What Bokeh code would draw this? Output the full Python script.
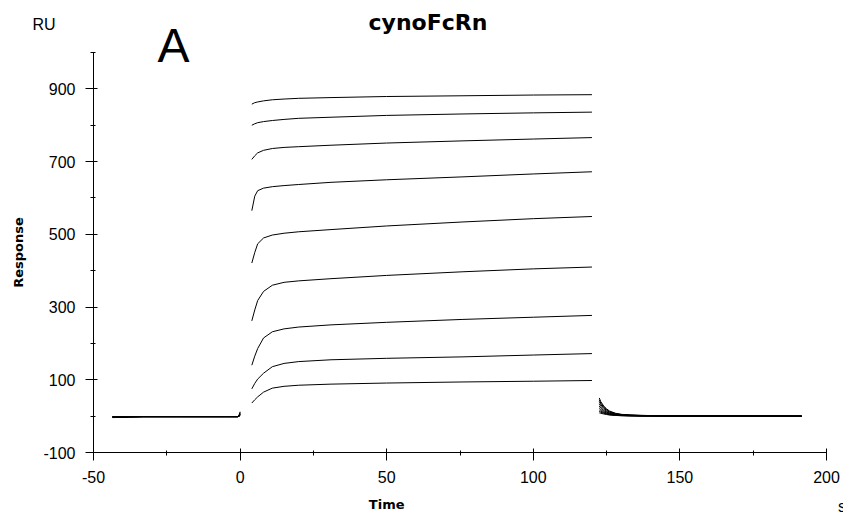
from bokeh.plotting import figure
from bokeh.models import FixedTicker, Range1d, LinearAxis
from bokeh.core.properties import value
from bokeh.embed import file_html
from bokeh.resources import INLINE

# ---- axis ticks ----
x_ticks = [-50, 0, 50, 100, 150, 200]
x_minor = [-25, 25, 75, 125, 175]
x_labels = ["-50", "0", "50", "100", "150", "200"]
y_ticks = [-100, 100, 300, 500, 700, 900]
y_minor = [0, 200, 400, 600, 800, 1000]
y_labels = ["-100", "100", "300", "500", "700", "900"]

# ---- baseline phase (s, RU) ----
base_t = [-43.5, -38, -33, -20, -5, -0.8, -0.3, 0]
base_1 = [-4, -3, -2, -2, -2, -2, 4, 12]
base_2 = [-3, -2.5, -2, -2, -2, -2, 3, 10]
base_3 = [-3, -2, -1.5, -1.5, -1.5, -1.5, 2, 8]
base_4 = [-2.5, -2, -1.5, -1.5, -1.5, -1.5, 1, 6]
base_5 = [-2, -1.5, -1, -1, -1, -1, 1, 5]
base_6 = [-2, -1.5, -1, -1, -1, -1, 0, 4]
base_7 = [-1.5, -1, -1, -1, -1, -1, 0, 3]
base_8 = [-1.5, -1, -1, -1, -1, -1, 0, 2]
base_9 = [-1, -1, -1, -1, -1, -1, 0, 2]

# ---- association phase (s, RU) ----
assoc_t = [4, 5, 6, 8, 11, 15, 20, 31, 50, 76, 100, 120]
assoc_1 = [858, 862, 864, 867, 870, 872, 874, 876, 879, 881, 883, 884]
assoc_2 = [800, 804, 807, 810, 813, 816, 819, 822, 827, 831, 834, 836]
assoc_3 = [706, 716, 724, 731, 736, 739, 741, 745, 751, 757, 762, 766]
assoc_4 = [565, 605, 620, 627, 631, 634, 637, 643, 650, 658, 666, 672]
assoc_5 = [421, 450, 474, 490, 498, 503, 507, 513, 523, 534, 543, 549]
assoc_6 = [262, 292, 318, 343, 360, 368, 372, 378, 387, 397, 405, 410]
assoc_7 = [140, 165, 186, 215, 232, 240, 245, 251, 258, 266, 272, 277]
assoc_8 = [75, 90, 102, 118, 136, 145, 150, 155, 159, 163, 168, 172]
assoc_9 = [36, 45, 53, 66, 77, 82, 85, 88, 91, 94, 96, 98]

# ---- dissociation phase (s, RU) ----
diss_t = [122.5, 123, 124, 125, 126, 128, 130, 133, 137, 145, 160, 191.5]
diss_1 = [50, 40, 28, 20, 14, 8, 5, 3, 2, 1, 0.5, 0]
diss_2 = [45, 36, 25, 18, 12, 7, 4.5, 3, 2, 1, 0.5, 0]
diss_3 = [40, 32, 22, 16, 11, 6, 4, 2.5, 1.5, 1, 0.5, 0]
diss_4 = [34, 27, 19, 13, 9, 5, 3.5, 2, 1.5, 1, 0.5, 0]
diss_5 = [28, 22, 15, 11, 7.5, 4.5, 3, 2, 1, 0.5, 0, 0]
diss_6 = [22, 18, 12, 9, 6, 3.5, 2.5, 1.5, 1, 0.5, 0, 0]
diss_7 = [17, 14, 10, 7, 5, 3, 2, 1, 0.5, 0, 0, 0]
diss_8 = [13, 11, 8, 6, 4, 2.5, 1.5, 1, 0.5, 0, 0, 0]
diss_9 = [9, 8, 6, 4.5, 3, 2, 1, 0.5, 0, 0, 0, 0]

baselines = [base_1, base_2, base_3, base_4, base_5, base_6, base_7, base_8, base_9]
assocs = [assoc_1, assoc_2, assoc_3, assoc_4, assoc_5, assoc_6, assoc_7, assoc_8, assoc_9]
disss = [diss_1, diss_2, diss_3, diss_4, diss_5, diss_6, diss_7, diss_8, diss_9]

FONT = "Liberation Sans"
BOLD = "DejaVu Sans"

p = figure(width=843, height=515,
           x_range=Range1d(-50, 200), y_range=Range1d(-100, 1000),
           output_backend="svg", toolbar_location=None,
           min_border_left=93, min_border_right=17,
           min_border_top=52, min_border_bottom=63)
p.grid.visible = False
p.outline_line_color = None
p.background_fill_color = "white"
p.border_fill_color = "white"

xax = p.below[0]
yax = p.left[0]
for ax in (xax, yax):
    ax.axis_line_color = "black"
    ax.major_tick_line_color = "black"
    ax.minor_tick_line_color = "black"
    ax.major_tick_in = 4
    ax.major_tick_out = 8
    ax.minor_tick_in = 2
    ax.minor_tick_out = 3
    ax.major_label_text_font = FONT
    ax.major_label_text_font_size = "16px"
    ax.major_label_text_color = "black"
    ax.major_label_standoff = 10

xax.ticker = FixedTicker(ticks=x_ticks, minor_ticks=x_minor)
yax.ticker = FixedTicker(ticks=y_ticks, minor_ticks=y_minor)
xax.major_label_overrides = {t: l for t, l in zip(x_ticks, x_labels)}
yax.major_label_overrides = {t: l for t, l in zip(y_ticks, y_labels)}

yax.axis_label = "Response"
yax.axis_label_standoff = 14
yax.axis_label_text_font = BOLD
yax.axis_label_text_font_size = "13px"
yax.axis_label_text_font_style = "bold"
yax.axis_label_text_color = "black"

# invisible spacer in the top panel (white tick on white, empty label),
# so that the title sits higher above the frame
spacer = LinearAxis(ticker=FixedTicker(ticks=[75], minor_ticks=[]), axis_line_color=None,
                    major_tick_line_color="white", minor_tick_line_color=None,
                    major_tick_in=0, major_tick_out=8, minor_tick_in=0, minor_tick_out=0,
                    major_label_standoff=0, major_label_overrides={75: ""},
                    major_label_text_font_size="1px")
p.add_layout(spacer, "above")

p.title.text = "cynoFcRn"
p.title.text_font = BOLD
p.title.text_font_size = "22px"
p.title.text_font_style = "bold"
p.title.text_color = "black"
p.title.align = "left"
p.title.offset = 275
p.title.vertical_align = "top"
p.title.standoff = 15

for b in baselines:
    p.line(base_t, b, line_color="black", line_width=1)
for a in assocs:
    p.line(assoc_t, a, line_color="black", line_width=1)
for d in disss:
    p.line(diss_t, d, line_color="black", line_width=1)

# free texts drawn unclipped on the overlay level
p.text(x=[-70.8], y=[1077], text=["RU"], text_font=value(FONT), text_font_size="16px",
       text_color="black", text_align="left", text_baseline="alphabetic", level="overlay")
p.text(x=[-22.7], y=[1019], text=["A"], text_font=value(FONT), text_font_size="48px",
       text_color="black", text_align="center", text_baseline="alphabetic", level="overlay")
p.text(x=[203.9], y=[-248], text=["s"], text_font=value(FONT), text_font_size="16px",
       text_color="black", text_align="left", text_baseline="alphabetic", level="overlay")
p.text(x=[50], y=[-243], text=["Time"], text_font=value(BOLD), text_font_size="13px",
       text_font_style="bold", text_color="black", text_align="center",
       text_baseline="alphabetic", level="overlay")

open("out.html", "w").write(file_html(p, INLINE))
